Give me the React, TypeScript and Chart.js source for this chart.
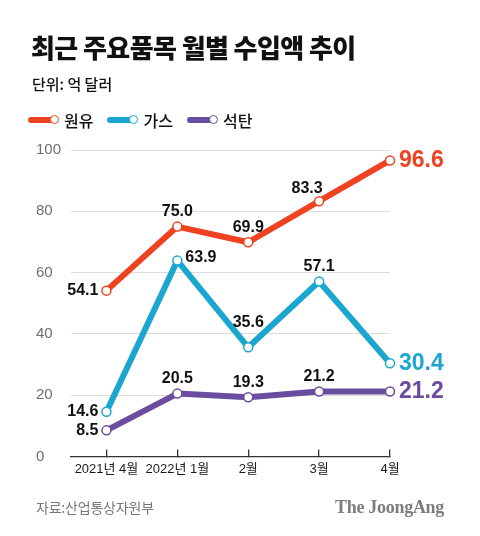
import React, { useEffect, useRef } from "react";
import { Chart, registerables } from "chart.js";

Chart.register(...registerables);

const categories = ["2021년 4월", "2022년 1월", "2월", "3월", "4월"];
const seriesNames = ["원유", "가스", "석탄"];
const oilValues = [54.1, 75.0, 69.9, 83.3, 96.6];
const gasValues = [14.6, 63.9, 35.6, 57.1, 30.4];
const coalValues = [8.5, 20.5, 19.3, 21.2, 21.2];
const yTicks = [0, 20, 40, 60, 80, 100];

const colors = ["#ee4220", "#1ba6d0", "#6a4d9f"];
// label placement (style) per series
const oilLabelPos = ["left", "above", "above", "aboveLeft", "end"];
const gasLabelPos = ["left", "right", "aboveHigh", "above", "end"];
const coalLabelPos = ["left", "above", "above", "above", "end"];

const NUM_FONT = "'Liberation Sans', Arial, 'Noto Sans CJK KR', sans-serif";
const KR_FONT = "'Noto Sans CJK KR', 'Noto Sans', sans-serif";

const labelPlugin = {
  id: "valueLabels",
  afterDatasetsDraw(chart: any) {
    const ctx = chart.ctx;
    ctx.save();
    chart.data.datasets.forEach((ds: any, i: number) => {
      const meta = chart.getDatasetMeta(i);
      const pos: string[] = ds.labelPos;
      meta.data.forEach((el: any, j: number) => {
        const v = ds.data[j].y;
        const txt = v.toFixed(1);
        const p = pos[j];
        let x = el.x;
        let y = el.y;
        ctx.textBaseline = "middle";
        if (p === "end") {
          ctx.font = `bold 23px ${NUM_FONT}`;
          ctx.fillStyle = ds.borderColor;
          ctx.textAlign = "left";
          x += 9;
        } else {
          ctx.font = `bold 16px ${NUM_FONT}`;
          ctx.fillStyle = "#111";
          if (p === "left") {
            ctx.textAlign = "right";
            x -= 8;
          } else if (p === "right") {
            ctx.textAlign = "left";
            x += 8;
            y -= 3;
          } else if (p === "aboveLeft") {
            ctx.textAlign = "center";
            x -= 12;
            y -= 13;
          } else if (p === "aboveHigh") {
            ctx.textAlign = "center";
            y -= 25;
          } else {
            ctx.textAlign = "center";
            y -= 15;
          }
        }
        ctx.fillText(txt, x, y);
      });
    });
    ctx.restore();
  },
};

function makeDataset(name: string, values: number[], color: string, labelPos: string[]) {
  return {
    label: name,
    data: values.map((v, i) => ({ x: i, y: v })),
    borderColor: color,
    backgroundColor: color,
    borderWidth: 6,
    borderJoinStyle: "round",
    borderCapStyle: "round",
    pointRadius: 4.5,
    pointBorderWidth: 1.5,
    pointBackgroundColor: "#ffffff",
    pointBorderColor: color,
    clip: false,
    labelPos,
  };
}

function LegendItem({ color, label }: { color: string; label: string }) {
  return (
    <div style={{ display: "flex", alignItems: "center", marginRight: 14 }}>
      <div style={{ position: "relative", width: 33, height: 12 }}>
        <div
          style={{
            position: "absolute",
            left: 0,
            top: 3,
            width: 26,
            height: 6,
            borderRadius: 3,
            background: color,
          }}
        />
        <div
          style={{
            position: "absolute",
            left: 22,
            top: 1,
            width: 7,
            height: 7,
            borderRadius: "50%",
            background: "#fff",
            border: `1.5px solid ${color}`,
          }}
        />
      </div>
      <span style={{ fontFamily: KR_FONT, fontSize: 16, fontWeight: 500, color: "#111", marginLeft: 3 }}>
        {label}
      </span>
    </div>
  );
}

export default function App() {
  const ref = useRef<HTMLCanvasElement | null>(null);

  useEffect(() => {
    if (!ref.current) return;
    const chart = new Chart(ref.current, {
      type: "line",
      data: {
        datasets: [
          makeDataset(seriesNames[0], oilValues, colors[0], oilLabelPos),
          makeDataset(seriesNames[1], gasValues, colors[1], gasLabelPos),
          makeDataset(seriesNames[2], coalValues, colors[2], coalLabelPos),
        ] as any,
      },
      options: {
        animation: false,
        responsive: false,
        devicePixelRatio: 1,
        layout: { padding: { top: 150, left: 36, right: 90, bottom: 47 } },
        plugins: { legend: { display: false }, tooltip: { enabled: false } },
        scales: {
          x: {
            type: "linear",
            min: -0.5,
            max: categories.length - 1,
            afterBuildTicks: (scale: any) => {
              scale.ticks = categories.map((_, i) => ({ value: i }));
            },
            grid: {
              display: true,
              drawOnChartArea: false,
              drawTicks: true,
              tickLength: -7,
              color: "#333",
              lineWidth: 1.3,
            },
            border: { display: true, color: "#333", width: 1.3 },
            ticks: {
              autoSkip: false,
              maxRotation: 0,
              padding: 12,
              color: "#1a1a1a",
              font: { family: NUM_FONT, size: 13 },
              callback: (v: any) => categories[v as number] ?? "",
            },
          },
          y: {
            min: 0,
            max: 100,
            afterBuildTicks: (scale: any) => {
              scale.ticks = yTicks.map((v) => ({ value: v }));
            },
            grid: { color: "#dddddd", lineWidth: 1, drawTicks: false },
            border: { display: false },
            ticks: {
              crossAlign: "far",
              padding: 5,
              color: "#6e6e6e",
              font: { family: NUM_FONT, size: 15 },
            },
          },
        },
      } as any,
      plugins: [labelPlugin],
    });
    return () => chart.destroy();
  }, []);

  return (
    <div
      style={{
        position: "fixed",
        left: 0,
        top: 0,
        width: 480,
        height: 536,
        background: "#fff",
        overflow: "hidden",
      }}
    >
      <canvas ref={ref} width={480} height={536} style={{ position: "absolute", left: 0, top: 0 }} />
      <div
        style={{
          position: "absolute",
          left: 31,
          top: 32,
          fontFamily: KR_FONT,
          fontSize: 26,
          lineHeight: "30px",
          fontWeight: 900,
          letterSpacing: -0.6,
          color: "#111",
          whiteSpace: "nowrap",
        }}
      >
        최근 주요품목 월별 수입액 추이
      </div>
      <div
        style={{
          position: "absolute",
          left: 32,
          top: 75,
          fontFamily: KR_FONT,
          fontSize: 15,
          lineHeight: "18px",
          fontWeight: 500,
          color: "#111",
          whiteSpace: "nowrap",
        }}
      >
        단위: 억 달러
      </div>
      <div style={{ position: "absolute", left: 28, top: 108, display: "flex", alignItems: "center", height: 24 }}>
        {seriesNames.map((n, i) => (
          <LegendItem key={n} color={colors[i]} label={n} />
        ))}
      </div>
      <div
        style={{
          position: "absolute",
          left: 36,
          top: 497,
          fontFamily: KR_FONT,
          fontSize: 14,
          lineHeight: "20px",
          color: "#777",
          letterSpacing: -0.2,
          whiteSpace: "nowrap",
        }}
      >
        자료:산업통상자원부
      </div>
      <div
        style={{
          position: "absolute",
          right: 36,
          top: 496,
          fontFamily: "'Liberation Serif', 'DejaVu Serif', serif",
          fontSize: 18,
          lineHeight: "22px",
          fontWeight: 700,
          color: "#7d7d7d",
          letterSpacing: -0.3,
          whiteSpace: "nowrap",
        }}
      >
        The JoongAng
      </div>
    </div>
  );
}
